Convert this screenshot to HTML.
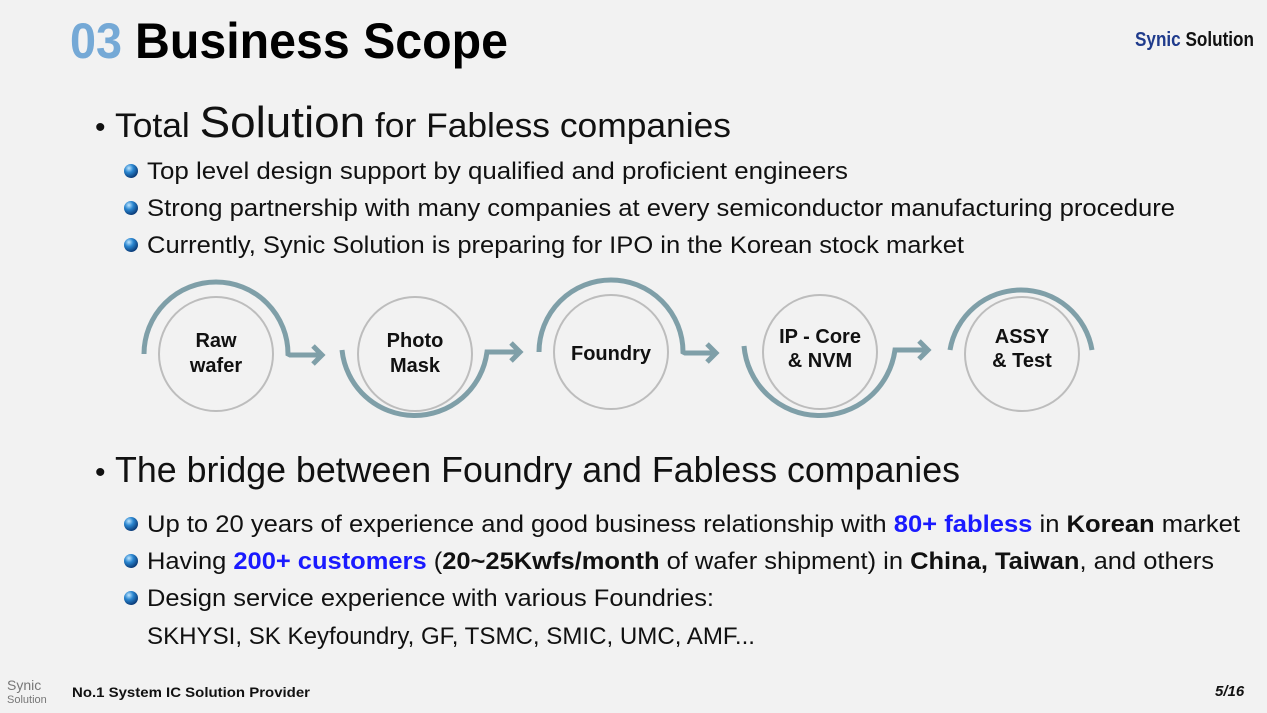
<!DOCTYPE html>
<html><head><meta charset="utf-8"><style>
html,body{margin:0;padding:0;background:#f2f2f2;}
svg{display:block;}
text{font-family:"Liberation Sans","DejaVu Sans",sans-serif;}
</style></head><body>
<svg width="1267" height="713" viewBox="0 0 1267 713" xmlns="http://www.w3.org/2000/svg">
<defs>
<radialGradient id="ball" cx="0.35" cy="0.3" r="0.7">
<stop offset="0" stop-color="#bfe6ff"/><stop offset="0.45" stop-color="#2a86d0"/><stop offset="1" stop-color="#0b3d7a"/>
</radialGradient>
</defs>
<rect width="1267" height="713" fill="#f2f2f2"/>
<text x="70" y="58" font-size="50" font-weight="bold" fill="#75a9d6" textLength="52" lengthAdjust="spacingAndGlyphs">03</text>
<text x="135" y="58" font-size="50" font-weight="bold" fill="#000" textLength="373" lengthAdjust="spacingAndGlyphs">Business Scope</text>
<text x="1135" y="46" font-size="20" font-weight="bold" textLength="119" lengthAdjust="spacingAndGlyphs"><tspan fill="#1f3b8c">Synic</tspan><tspan fill="#111"> Solution</tspan></text>

<text x="95" y="137" font-size="30" fill="#111">•</text>
<text x="115" y="137" font-size="34" fill="#111" textLength="616" lengthAdjust="spacingAndGlyphs">Total <tspan font-size="44">Solution</tspan> for Fabless companies</text>

<g font-size="24" fill="#111">
<circle cx="131" cy="171" r="7" fill="url(#ball)"/>
<text x="147" y="179" textLength="701" lengthAdjust="spacingAndGlyphs">Top level design support by qualified and proficient engineers</text>
<circle cx="131" cy="208" r="7" fill="url(#ball)"/>
<text x="147" y="216" textLength="1028" lengthAdjust="spacingAndGlyphs">Strong partnership with many companies at every semiconductor manufacturing procedure</text>
<circle cx="131" cy="245" r="7" fill="url(#ball)"/>
<text x="147" y="253" textLength="817" lengthAdjust="spacingAndGlyphs">Currently, Synic Solution is preparing for IPO in the Korean stock market</text>
</g>

<g fill="none" stroke="#bdbdbd" stroke-width="2">
<circle cx="216" cy="354" r="57"/>
<circle cx="415" cy="354" r="57"/>
<circle cx="611" cy="352" r="57"/>
<circle cx="820" cy="352" r="57"/>
<circle cx="1022" cy="354" r="57"/>
</g>
<g fill="none" stroke="#7f9fa8" stroke-width="5">
<path d="M144 354 A72 72 0 0 1 288 354 L290 355 L322 355"/>
<path d="M313 346 L322 355 L313 364"/>
<path d="M342 350 A73 73 0 0 0 487 352 L520 352"/>
<path d="M511 343 L520 352 L511 361"/>
<path d="M539 352 A72 72 0 0 1 683 352 L685 353 L716 353"/>
<path d="M707 344 L716 353 L707 362"/>
<path d="M744 346 A76 76 0 0 0 895 350 L928 350"/>
<path d="M919 341 L928 350 L919 359"/>
<path d="M950 350 A72 72 0 0 1 1092 350"/>
</g>
<g font-size="20" font-weight="bold" fill="#111" text-anchor="middle">
<text x="216" y="347">Raw</text><text x="216" y="372">wafer</text>
<text x="415" y="347">Photo</text><text x="415" y="372">Mask</text>
<text x="611" y="360">Foundry</text>
<text x="820" y="343">IP - Core</text><text x="820" y="367">&amp; NVM</text>
<text x="1022" y="343">ASSY</text><text x="1022" y="367">&amp; Test</text>
</g>

<text x="95" y="482" font-size="30" fill="#111">•</text>
<text x="115" y="482" font-size="36" fill="#111" textLength="845" lengthAdjust="spacingAndGlyphs">The bridge between Foundry and Fabless companies</text>

<g font-size="24" fill="#111">
<circle cx="131" cy="524" r="7" fill="url(#ball)"/>
<text x="147" y="532" textLength="1093" lengthAdjust="spacingAndGlyphs">Up to 20 years of experience and good business relationship with <tspan fill="#1a1aff" font-weight="bold">80+ fabless</tspan> in <tspan font-weight="bold">Korean</tspan> market</text>
<circle cx="131" cy="561" r="7" fill="url(#ball)"/>
<text x="147" y="569" textLength="1067" lengthAdjust="spacingAndGlyphs">Having <tspan fill="#1a1aff" font-weight="bold">200+ customers</tspan> (<tspan font-weight="bold">20~25Kwfs/month</tspan> of wafer shipment) in <tspan font-weight="bold">China, Taiwan</tspan>, and others</text>
<circle cx="131" cy="598" r="7" fill="url(#ball)"/>
<text x="147" y="606" textLength="567" lengthAdjust="spacingAndGlyphs">Design service experience with various Foundries:</text>
<text x="147" y="644" textLength="608" lengthAdjust="spacingAndGlyphs">SKHYSI, SK Keyfoundry, GF, TSMC, SMIC, UMC, AMF...</text>
</g>

<text x="7" y="690" font-size="14" fill="#777" font-family="Liberation Serif,serif">Synic</text>
<text x="7" y="703" font-size="11" fill="#777" font-family="Liberation Serif,serif">Solution</text>
<text x="72" y="697" font-size="14" font-weight="bold" fill="#111" textLength="238" lengthAdjust="spacingAndGlyphs">No.1 System IC Solution Provider</text>
<text x="1215" y="696" font-size="15" font-weight="bold" font-style="italic" fill="#111">5/16</text>
</svg>
</body></html>
